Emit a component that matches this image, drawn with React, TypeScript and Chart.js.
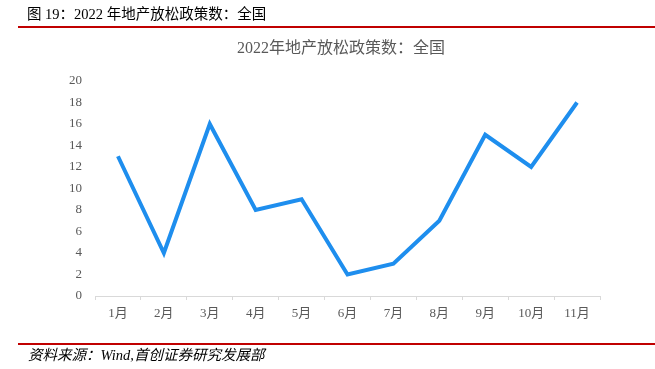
import React, { useEffect, useRef } from "react";
import { Chart, registerables } from "chart.js";

Chart.register(...registerables);

const months = ["1月", "2月", "3月", "4月", "5月", "6月", "7月", "8月", "9月", "10月", "11月"];
const policyCounts = [13, 4, 16, 8, 9, 2, 3, 7, 15, 12, 18];
const yMin = 0;
const yMax = 20;
const yStep = 2;

const headerText = "图 19：2022 年地产放松政策数：全国";
const chartTitle = "2022年地产放松政策数：全国";
const sourceText = "资料来源：Wind,首创证券研究发展部";

const serif = '"Liberation Serif", "Times New Roman", "Noto Sans CJK SC", serif';

export default function App() {
  const ref = useRef<HTMLCanvasElement>(null);

  useEffect(() => {
    document.body.style.margin = "0";
    const ctx = ref.current!.getContext("2d")!;
    const chart = new Chart(ctx, {
      type: "line",
      data: {
        labels: months,
        datasets: [
          {
            data: policyCounts,
            borderColor: "#1E8EEE",
            borderWidth: 4,
            pointRadius: 0,
            tension: 0,
            fill: false,
          },
        ],
      },
      options: {
        animation: false,
        responsive: false,
        maintainAspectRatio: false,
        layout: { padding: { left: 40, right: 55, top: 81, bottom: 0 } },
        plugins: {
          legend: { display: false },
          tooltip: { enabled: false },
          title: { display: false },
        },
        scales: {
          x: {
            type: "category",
            offset: true,
            grid: {
              offset: true,
              drawOnChartArea: false,
              drawTicks: true,
              tickLength: 4,
              color: "#D9D9D9",
            },
            border: { display: true, color: "#D9D9D9", width: 1 },
            ticks: {
              color: "#595959",
              font: { family: serif, size: 13 },
              padding: 6,
              maxRotation: 0,
              autoSkip: false,
            },
            afterFit: (scale: any) => {
              scale.height = 73;
            },
          },
          y: {
            min: yMin,
            max: yMax,
            grid: { display: false, drawTicks: false },
            border: { display: false },
            ticks: {
              stepSize: yStep,
              color: "#595959",
              font: { family: serif, size: 13 },
              padding: 13,
            },
            afterFit: (scale: any) => {
              scale.width = 55;
            },
          },
        },
      },
    });
    return () => chart.destroy();
  }, []);

  return (
    <div style={{ position: "relative", width: 655, height: 369, background: "#fff", overflow: "hidden" }}>
      <canvas ref={ref} width={655} height={369} style={{ position: "absolute", left: 0, top: 0 }} />
      <div
        style={{
          position: "absolute",
          left: 237,
          width: 200,
          top: 38,
          textAlign: "center",
          fontFamily: serif,
          fontSize: 16,
          color: "#595959",
          whiteSpace: "nowrap",
          lineHeight: "20px",
        }}
      >
        {chartTitle}
      </div>
      <div
        style={{
          position: "absolute",
          left: 27,
          top: 5,
          fontFamily: serif,
          fontSize: 14.5,
          color: "#000",
          whiteSpace: "nowrap",
          lineHeight: "19px",
        }}
      >
        {headerText}
      </div>
      <div style={{ position: "absolute", left: 18, right: 0, top: 26, height: 2, background: "#C00000" }} />
      <div style={{ position: "absolute", left: 18, right: 0, top: 343, height: 2, background: "#C00000" }} />
      <div
        style={{
          position: "absolute",
          left: 28,
          top: 346,
          fontFamily: serif,
          fontSize: 14.5,
          fontStyle: "italic",
          color: "#000",
          whiteSpace: "nowrap",
          lineHeight: "19px",
        }}
      >
        {sourceText}
      </div>
    </div>
  );
}
